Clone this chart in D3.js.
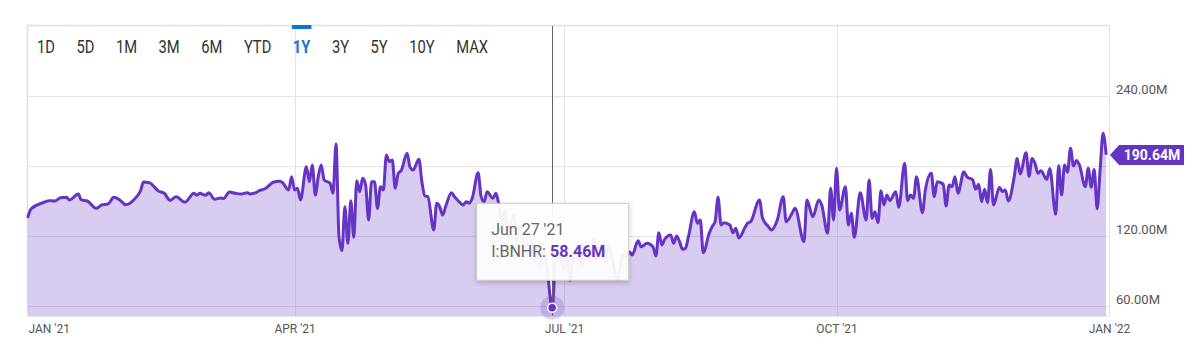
<!DOCTYPE html>
<html>
<head>
<meta charset="utf-8">
<script src="https://cdn.jsdelivr.net/npm/d3@7"></script>
<style>
  body { margin: 0; background: #fff; }
  svg { display: block; font-family: Roboto, "Open Sans", sans-serif; }
</style>
</head>
<body>
<div id="chart"></div>
<script>
// daily points (millions)
const dates = [
  "2021-01-01","2021-01-02","2021-01-06","2021-01-08","2021-01-10","2021-01-12","2021-01-14","2021-01-15","2021-01-18","2021-01-19","2021-01-21","2021-01-24","2021-01-26","2021-01-28","2021-01-30",
  "2021-02-01","2021-02-03","2021-02-06","2021-02-08","2021-02-09","2021-02-11","2021-02-14","2021-02-16","2021-02-18","2021-02-20","2021-02-23","2021-02-26","2021-02-27","2021-02-28",
  "2021-03-02","2021-03-03","2021-03-05","2021-03-07","2021-03-08","2021-03-10","2021-03-12","2021-03-14","2021-03-16","2021-03-17","2021-03-19","2021-03-20","2021-03-22","2021-03-25","2021-03-27","2021-03-28","2021-03-30","2021-03-31",
  "2021-04-01","2021-04-02","2021-04-03","2021-04-05","2021-04-06","2021-04-07","2021-04-08","2021-04-09","2021-04-10","2021-04-11","2021-04-13","2021-04-14","2021-04-15","2021-04-16","2021-04-17","2021-04-18","2021-04-19","2021-04-20","2021-04-21","2021-04-22","2021-04-23","2021-04-24","2021-04-25","2021-04-26","2021-04-27","2021-04-28","2021-04-29","2021-04-30",
  "2021-05-01","2021-05-02","2021-05-03","2021-05-04","2021-05-05","2021-05-06","2021-05-07","2021-05-09","2021-05-10","2021-05-11","2021-05-13","2021-05-14","2021-05-15","2021-05-16","2021-05-18","2021-05-19","2021-05-20","2021-05-21","2021-05-22","2021-05-24","2021-05-25","2021-05-26","2021-05-28","2021-05-29","2021-05-30","2021-05-31",
  "2021-06-02","2021-06-03","2021-06-04","2021-06-05","2021-06-07","2021-06-08","2021-06-09","2021-06-10","2021-06-11","2021-06-12","2021-06-14","2021-06-15","2021-06-16","2021-06-18","2021-06-19","2021-06-21","2021-06-22","2021-06-23","2021-06-24","2021-06-25","2021-06-27","2021-06-28","2021-06-29",
  "2021-07-01","2021-07-02","2021-07-03","2021-07-04","2021-07-06","2021-07-07","2021-07-08","2021-07-10","2021-07-11","2021-07-12","2021-07-14","2021-07-15","2021-07-16","2021-07-17","2021-07-19","2021-07-21","2021-07-22","2021-07-23","2021-07-24","2021-07-26","2021-07-27","2021-07-29","2021-07-31",
  "2021-08-01","2021-08-02","2021-08-03","2021-08-04","2021-08-06","2021-08-07","2021-08-08","2021-08-09","2021-08-10","2021-08-11","2021-08-12","2021-08-14","2021-08-15","2021-08-16","2021-08-17","2021-08-19","2021-08-20","2021-08-21","2021-08-22","2021-08-23","2021-08-24","2021-08-26","2021-08-27","2021-08-28","2021-08-29","2021-08-31",
  "2021-09-01","2021-09-02","2021-09-05","2021-09-06","2021-09-08","2021-09-09","2021-09-11","2021-09-13","2021-09-14","2021-09-16","2021-09-17","2021-09-20","2021-09-21","2021-09-23","2021-09-25","2021-09-26","2021-09-28","2021-09-29","2021-09-30",
  "2021-10-01","2021-10-02","2021-10-04","2021-10-05","2021-10-06","2021-10-07","2021-10-09","2021-10-11","2021-10-12","2021-10-13","2021-10-14","2021-10-15","2021-10-16","2021-10-17","2021-10-18","2021-10-19","2021-10-21","2021-10-22","2021-10-24","2021-10-25","2021-10-26","2021-10-27","2021-10-28","2021-10-30","2021-10-31",
  "2021-11-02","2021-11-03","2021-11-04","2021-11-06","2021-11-07","2021-11-08","2021-11-09","2021-11-10","2021-11-11","2021-11-13","2021-11-14","2021-11-16","2021-11-17","2021-11-18","2021-11-19","2021-11-20","2021-11-21","2021-11-22","2021-11-23","2021-11-25","2021-11-26","2021-11-27","2021-11-28","2021-11-30",
  "2021-12-01","2021-12-02","2021-12-04","2021-12-05","2021-12-06","2021-12-07","2021-12-08","2021-12-09","2021-12-11","2021-12-12","2021-12-14","2021-12-15","2021-12-16","2021-12-17","2021-12-18","2021-12-19","2021-12-20","2021-12-21","2021-12-22","2021-12-24","2021-12-25","2021-12-26","2021-12-27","2021-12-28","2021-12-29","2021-12-30","2021-12-31"
];

const values = [
  136.5,143.1,148.5,150.3,150.0,152.8,153.2,150.9,156.0,150.9,150.0,143.7,146.8,147.4,153.2,
  150.9,146.8,151.7,158.8,166.3,165.7,158.6,156.6,150.6,153.7,148.9,156.6,154.9,156.6,
  154.9,157.1,151.5,152.6,152.1,157.7,156.6,156.0,157.1,156.0,157.1,158.8,160.5,166.3,166.9,165.7,159.4,170.8,
  159.4,160.9,150.9,179.4,166.5,180.8,155.1,170.8,180.8,168.0,165.2,156.6,198.8,119.4,107.4,145.1,113.7,150.3,118.9,167.4,158.0,169.4,163.7,133.7,166.5,166.5,143.7,162.2,
  159.4,189.4,183.7,185.1,160.9,173.7,176.0,190.9,178.9,176.6,185.7,166.5,154.3,153.7,125.1,148.0,145.1,138.0,145.1,157.1,153.7,150.9,146.6,149.4,148.0,152.3,
  174.2,153.7,149.4,158.0,152.3,156.6,146.6,132.0,142.0,125.0,138.0,117.0,129.0,104.0,121.0,98.0,112.0,93.0,108.0,98.0,58.46,95.0,108.0,
  91.0,104.0,82.0,101.0,108.0,94.0,112.0,98.0,117.0,101.0,110.0,98.0,112.0,104.0,83.0,104.0,102.9,106.5,103.7,116.0,110.8,113.7,110.8,
  102.9,122.8,112.3,117.2,120.9,113.7,120.0,115.1,108.6,109.5,119.4,140.8,130.9,133.7,105.7,122.3,128.0,132.3,153.2,129.4,131.4,129.4,122.8,126.6,118.3,126.9,
  131.1,132.3,150.9,135.4,128.0,125.1,133.7,153.7,132.3,139.5,143.7,115.1,150.9,136.5,150.9,146.6,122.3,160.9,133.7,
  178.0,142.3,162.3,129.4,139.5,118.9,157.1,133.7,168.0,135.2,140.8,131.4,158.8,146.6,155.1,150.3,158.0,144.6,182.3,150.3,155.1,152.3,170.8,140.0,159.4,
  173.7,153.7,166.5,164.6,145.7,163.7,162.2,170.8,156.6,175.1,170.8,168.0,160.0,164.3,149.4,160.0,148.6,177.1,146.6,161.8,158.0,159.4,150.0,170.8,
  186.5,173.1,191.3,171.1,186.5,182.3,173.7,175.9,168.5,177.9,138.6,180.3,155.1,180.9,174.7,195.3,179.9,184.7,180.9,162.3,178.0,161.8,177.1,143.3,176.6,208.0,190.64
];

const rangeButtons = ["1D", "5D", "1M", "3M", "6M", "YTD", "1Y", "3Y", "5Y", "10Y", "MAX"];
const activeRange = "1Y";
const yTicks = [60, 120, 180, 240];
const xTicks = ["2021-01-01", "2021-04-01", "2021-07-01", "2021-10-01", "2022-01-01"];
const xTickLabels = ["JAN '21", "APR '21", "JUL '21", "OCT '21", "JAN '22"];
const seriesName = "I:BNHR";
const hoverDate = "2021-06-27";

const purple = "#6534c4";
const width = 1200, height = 351;
const plot = { left: 28, right: 1109, top: 26, bottom: 316 };

const parse = d3.timeParse("%Y-%m-%d");
const data = dates.map((d, i) => ({ date: parse(d), value: values[i] }));

const x = d3.scaleTime()
  .domain([parse(xTicks[0]), parse(xTicks[xTicks.length - 1])])
  .range([plot.left, plot.right]);

const y = d3.scaleLinear()
  .domain([60, 240])
  .range([306, 96]);

const svg = d3.select("#chart")
  .append("svg")
  .attr("width", width)
  .attr("height", height);

const defs = svg.append("defs");
defs.append("filter")
  .attr("id", "shadow")
  .attr("x", "-20%").attr("y", "-20%").attr("width", "140%").attr("height", "150%")
  .append("feDropShadow")
  .attr("dx", 0).attr("dy", 2).attr("stdDeviation", 2.5)
  .attr("flood-color", "#000").attr("flood-opacity", 0.22);

// grid
const grid = svg.append("g");
grid.selectAll(".hgrid")
  .data(yTicks)
  .enter().append("line")
  .attr("x1", plot.left).attr("x2", plot.right)
  .attr("y1", d => Math.round(y(d)) + 0.5).attr("y2", d => Math.round(y(d)) + 0.5)
  .attr("stroke", "#e4e4e4");

grid.selectAll(".vgrid")
  .data(xTicks.slice(1).map(parse))
  .enter().append("line")
  .attr("x1", d => Math.round(x(d)) + 0.5).attr("x2", d => Math.round(x(d)) + 0.5)
  .attr("y1", plot.top).attr("y2", plot.bottom)
  .attr("stroke", "#e4e4e4");

// frame
svg.append("path")
  .attr("d", `M${plot.left - 0.5},${plot.bottom}V${plot.top - 0.5}H${plot.right + 0.5}`)
  .attr("fill", "none")
  .attr("stroke", "#e0e0e0")
  .attr("stroke-width", 1.5);

// area + line
const area = d3.area()
  .x(d => x(d.date))
  .y0(plot.bottom)
  .y1(d => y(d.value))
  .curve(d3.curveMonotoneX);

const line = d3.line()
  .x(d => x(d.date))
  .y(d => y(d.value))
  .curve(d3.curveMonotoneX);

svg.append("path")
  .datum(data)
  .attr("d", area)
  .attr("fill", purple)
  .attr("fill-opacity", 0.25);

svg.append("line")
  .attr("x1", plot.left).attr("x2", plot.right)
  .attr("y1", plot.bottom + 0.5).attr("y2", plot.bottom + 0.5)
  .attr("stroke", "#e6e3ee");

svg.append("path")
  .datum(data)
  .attr("d", line)
  .attr("fill", "none")
  .attr("stroke", purple)
  .attr("stroke-width", 3)
  .attr("stroke-linejoin", "round")
  .attr("stroke-linecap", "round");

// axes
const last = data[data.length - 1];
const badgeY = y(last.value) + 1.5;

const yAxis = svg.append("g")
  .attr("transform", `translate(${plot.right},0)`)
  .call(d3.axisRight(y)
    .tickValues(yTicks.filter(v => Math.abs(y(v) - badgeY) > 16))
    .tickSize(0)
    .tickPadding(7)
    .tickFormat(d => d.toFixed(2) + "M"));
yAxis.select(".domain").remove();
yAxis.selectAll("text")
  .attr("dy", "-0.2em")
  .attr("fill", "#555")
  .style("font-family", "Roboto, sans-serif")
  .style("font-size", "13px");

const xAxis = svg.append("g")
  .attr("transform", `translate(0,${plot.bottom})`)
  .call(d3.axisBottom(x)
    .tickValues(xTicks.map(parse))
    .tickSize(0)
    .tickPadding(8.5)
    .tickFormat((d, i) => xTickLabels[i]));
xAxis.select(".domain").remove();
xAxis.selectAll("text")
  .attr("fill", "#555")
  .style("font-family", "Roboto, sans-serif")
  .style("font-size", "12px")
  .attr("text-anchor", (d, i) => i === 0 ? "start" : "middle");

// range buttons
const btnG = svg.append("g");
let bx = 37;
rangeButtons.forEach(label => {
  const isActive = label === activeRange;
  const g = btnG.append("g").attr("transform", `translate(${bx},53) scale(0.82,1)`);
  const t = g.append("text")
    .text(label)
    .attr("fill", isActive ? "#1a73c8" : "#333")
    .attr("font-weight", isActive ? 700 : 400)
    .style("font-size", "18px");
  const w = t.node().getComputedTextLength() * 0.82;
  if (isActive) {
    btnG.append("rect")
      .attr("x", bx - 1).attr("y", plot.top - 1)
      .attr("width", w + 2).attr("height", 4)
      .attr("fill", "#0b74d5");
  }
  bx += w + 21.5;
});

// hover crosshair + tooltip
const hover = data.find(d => d3.timeFormat("%Y-%m-%d")(d.date) === hoverDate);
const hx = x(hover.date), hy = y(hover.value);

svg.append("line")
  .attr("x1", Math.round(hx) + 0.5).attr("x2", Math.round(hx) + 0.5)
  .attr("y1", plot.top).attr("y2", plot.bottom)
  .attr("stroke", "#666")
  .attr("stroke-width", 1);

svg.append("circle")
  .attr("cx", hx).attr("cy", hy).attr("r", 12)
  .attr("fill", purple).attr("fill-opacity", 0.2);
svg.append("circle")
  .attr("cx", hx).attr("cy", hy).attr("r", 4.5)
  .attr("fill", purple)
  .attr("stroke", "#fff").attr("stroke-width", 1.5);

const tipW = 152, tipH = 77;
const tipX = hx - tipW / 2, tipY = hy - 28 - tipH;
const tip = svg.append("g").attr("transform", `translate(${tipX},${tipY})`);
tip.append("rect")
  .attr("x", 0.5).attr("y", 0.5)
  .attr("width", tipW).attr("height", tipH)
  .attr("fill", "#fff").attr("fill-opacity", 0.93)
  .attr("stroke", "#c8c8c8")
  .attr("filter", "url(#shadow)");
tip.append("text")
  .attr("x", 15).attr("y", 32)
  .attr("fill", "#666")
  .style("font-size", "16px")
  .text(d3.timeFormat("%b %-d '%y")(hover.date));
const tLine = tip.append("text")
  .attr("x", 15).attr("y", 54)
  .style("font-size", "16px");
tLine.append("tspan").attr("fill", "#666").text(seriesName + ": ");
tLine.append("tspan").attr("fill", purple).attr("font-weight", 700)
  .text(hover.value.toFixed(2) + "M");

// last value badge
const bLeft = plot.right + 1;
svg.append("path")
  .attr("d", `M${bLeft},${badgeY}L${bLeft + 9},${badgeY - 10}H${bLeft + 74}V${badgeY + 10}H${bLeft + 9}Z`)
  .attr("fill", purple);
svg.append("text")
  .attr("x", bLeft + 42).attr("y", badgeY + 5)
  .attr("text-anchor", "middle")
  .attr("fill", "#fff")
  .attr("font-weight", 700)
  .style("font-size", "14px")
  .text(last.value.toFixed(2) + "M");
</script>
</body>
</html>
